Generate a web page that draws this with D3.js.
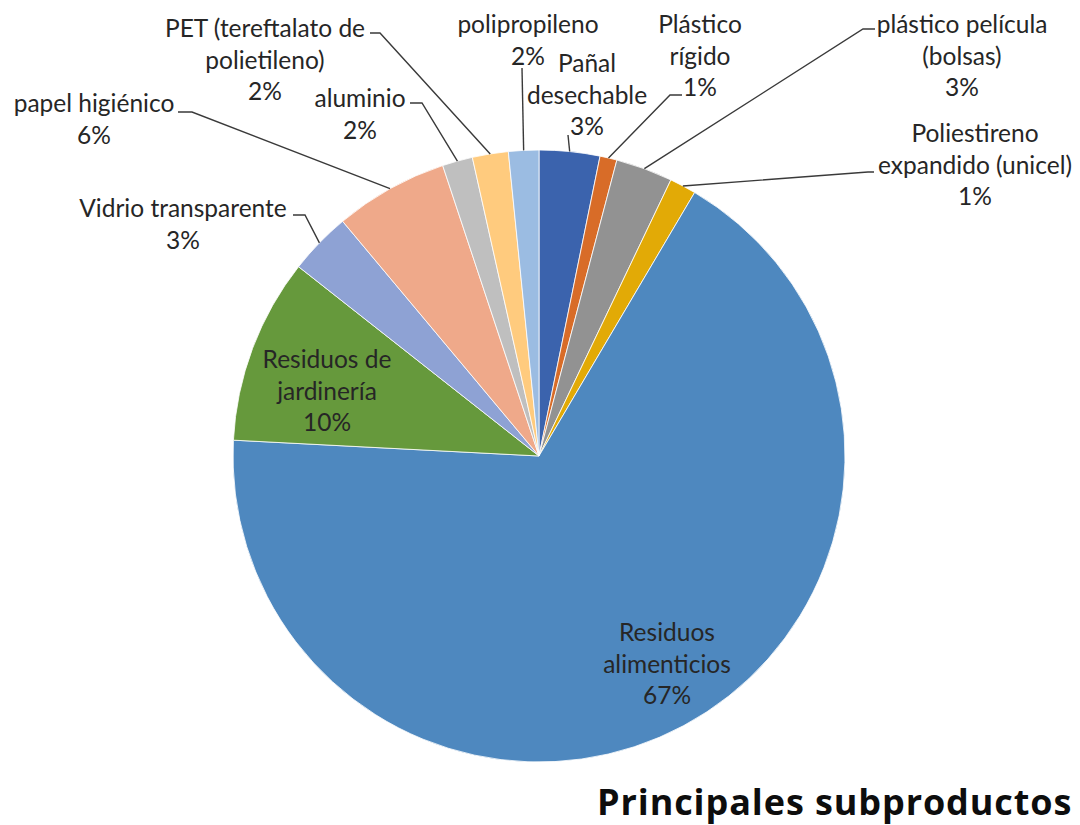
<!DOCTYPE html>
<meta charset="utf-8">
<style>
body { margin: 0; background: #fff; }
svg { display: block; }
.lbl { font-family: Lato, "Open Sans", sans-serif; font-size: 24.5px; fill: #262626; }
.title { font-family: "Open Sans", Lato, sans-serif; font-weight: bold; font-size: 36px; letter-spacing: 0.9px; fill: #0d0d0d; }
.leader { fill: none; stroke: #3a3a3a; stroke-width: 1.4; }
</style>
<div id="chart"></div>
<script src="https://cdn.jsdelivr.net/npm/d3@7"></script>
<script>
// data, clockwise from 12 o'clock
var categories = ["Pañal desechable", "Plástico rígido", "plástico película (bolsas)",
  "Poliestireno expandido (unicel)", "Residuos alimenticios", "Residuos de jardinería",
  "Vidrio transparente", "papel higiénico", "aluminio",
  "PET (tereftalato de polietileno)", "polipropileno"];
var values = [3.2, 0.9, 3.0, 1.4, 67.4, 9.8, 3.3, 6.0, 1.6, 1.9, 1.6];
var labelLines = [["Pañal", "desechable"], ["Plástico", "rígido"], ["plástico película", "(bolsas)"],
  ["Poliestireno", "expandido (unicel)"], ["Residuos", "alimenticios"], ["Residuos de", "jardinería"],
  ["Vidrio transparente"], ["papel higiénico"], ["aluminio"],
  ["PET (tereftalato de", "polietileno)"], ["polipropileno"]];
var colors = ["#3b63ad", "#d86c28", "#929292", "#e2aa06", "#4e88bf", "#66993c",
  "#8ea2d4", "#efa98a", "#bfbfbf", "#ffcb7e", "#9bbce2"];

// layout: label anchor (center x, first baseline) and leader points near the label
var labelAt = [[587, 72], [700, 33], [962, 33], [975, 142], [667, 641], [327, 368],
  [183, 217], [94, 112], [360, 107], [265, 37], [528, 33]];
var leaders = [[[568, 135]], [[670, 95], [682, 95]], [[863, 29], [875, 29]], [[868, 172], [874, 172]],
  null, null, [[305, 215], [293, 215]], [[192, 112], [178, 112]], [[422, 103], [410, 103]],
  [[380, 33], [370, 33]], [[522, 68]]];

var width = 1080, height = 825
  , cx = 539, cy = 456, r = 306
  , lineH = 31.5;

var svg = d3.select("#chart").append("svg")
    .attr("width", width)
    .attr("height", height);

var pie = d3.pie().sort(null).value(function(d) { return d; });
var arcs = pie(values);
var total = d3.sum(values);
var pct = d3.format(".0%");

var arc = d3.arc().innerRadius(0).outerRadius(r);
var rim = d3.arc().innerRadius(r).outerRadius(r);

var g = svg.append("g").attr("transform", "translate(" + cx + "," + cy + ")");

g.selectAll("path.slice")
    .data(arcs)
  .enter().append("path")
    .attr("class", "slice")
    .attr("d", arc)
    .attr("fill", function(d, i) { return colors[i]; })
    .attr("stroke", "#fff")
    .attr("stroke-width", 0.8);

// leader lines
var line = d3.line();
arcs.forEach(function(d, i) {
  if (!leaders[i]) return;
  var p = rim.centroid(d);
  var pts = [[p[0] + cx, p[1] + cy]].concat(leaders[i]);
  svg.append("path").attr("class", "leader").attr("d", line(pts));
});

// labels
arcs.forEach(function(d, i) {
  var lines = labelLines[i].concat([pct(values[i] / total)]);
  var t = svg.append("text")
      .attr("class", "lbl")
      .attr("text-anchor", "middle")
      .attr("x", labelAt[i][0])
      .attr("y", labelAt[i][1]);
  lines.forEach(function(s, k) {
    t.append("tspan")
      .attr("x", labelAt[i][0])
      .attr("dy", k === 0 ? 0 : lineH)
      .text(s);
  });
});

svg.append("text")
    .attr("class", "title")
    .attr("x", 597)
    .attr("y", 815)
    .text("Principales subproductos");
</script>
